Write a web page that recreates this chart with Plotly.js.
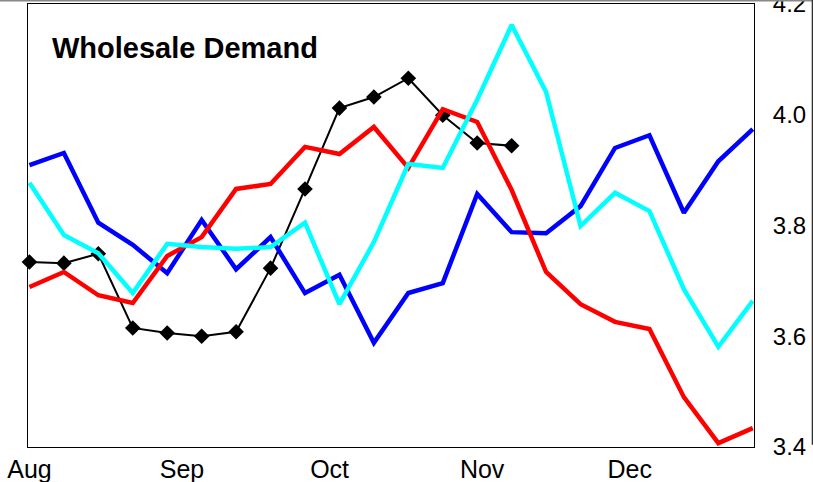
<!DOCTYPE html>
<html>
<head>
<meta charset="utf-8">
<script src="https://cdn.plot.ly/plotly-3.0.1.min.js"></script>
<style>html,body{margin:0;padding:0;background:#fff;}#chart{width:813px;height:482px;}</style>
</head>
<body>
<div id="chart"></div>
<script>
const weeks = ['2003-08-01','2003-08-08','2003-08-15','2003-08-22','2003-08-29',
  '2003-09-05','2003-09-12','2003-09-19','2003-09-26','2003-10-03','2003-10-10',
  '2003-10-17','2003-10-24','2003-10-31','2003-11-07','2003-11-14','2003-11-21',
  '2003-11-28','2003-12-05','2003-12-12','2003-12-19','2003-12-26'];
const blueVals = [3.909,3.931,3.805,3.765,3.714,3.810,3.721,3.779,3.678,3.711,3.588,
  3.678,3.696,3.857,3.788,3.786,3.835,3.940,3.963,3.823,3.916,3.974];
const cyanVals = [3.877,3.783,3.750,3.678,3.767,3.761,3.758,3.761,3.805,3.658,3.770,
  3.911,3.904,4.027,4.162,4.041,3.799,3.859,3.826,3.685,3.581,3.664];
const redVals = [3.689,3.716,3.674,3.660,3.745,3.779,3.866,3.875,3.942,3.929,3.978,
  3.904,4.010,3.987,3.864,3.716,3.658,3.626,3.613,3.490,3.407,3.434];
const blackVals = [3.734,3.732,3.749,3.615,3.606,3.600,3.608,3.723,3.866,4.012,4.032,
  4.066,3.999,3.949,3.944];
const monthTicks = ['2003-08-01','2003-09-01','2003-10-01','2003-11-01','2003-12-01'];
const monthLabels = ['Aug','Sep','Oct','Nov','Dec'];
const yTicks = [3.4,3.6,3.8,4.0,4.2];
const chartTitle = 'Wholesale Demand';

const FONT = 'Liberation Sans, Arial, Helvetica, sans-serif';

const traces = [
  {x: weeks.slice(0, blackVals.length), y: blackVals, mode: 'lines+markers', type: 'scatter',
   line: {color: '#000000', width: 2}, marker: {symbol: 'diamond', size: 12, color: '#000000'},
   cliponaxis: false, hoverinfo: 'skip'},
  {x: weeks, y: blueVals, mode: 'lines', type: 'scatter',
   line: {color: '#0000ff', width: 4.5}, hoverinfo: 'skip'},
  {x: weeks, y: redVals, mode: 'lines', type: 'scatter',
   line: {color: '#ff0000', width: 4.5}, hoverinfo: 'skip'},
  {x: weeks, y: cyanVals, mode: 'lines', type: 'scatter',
   line: {color: '#00ffff', width: 4.5}, hoverinfo: 'skip'}
];

const layout = {
  width: 813, height: 482,
  margin: {l: 28, r: 59, t: 4, b: 35, pad: 0},
  paper_bgcolor: '#ffffff', plot_bgcolor: '#ffffff',
  showlegend: false,
  font: {family: FONT, color: '#000000'},
  xaxis: {
    type: 'date',
    range: ['2003-07-31 17:00', '2003-12-26 06:00'],
    tickvals: monthTicks, ticktext: monthLabels,
    showgrid: false, zeroline: false,
    showline: true, mirror: true, linecolor: '#000000', linewidth: 1,
    ticks: '', ticklabelstandoff: 0, ticklabeloverflow: 'allow',
    tickfont: {size: 25, family: FONT, color: '#000000'}
  },
  yaxis: {
    side: 'right',
    range: [3.4, 4.2],
    tickvals: yTicks, tickformat: '.1f',
    showgrid: false, zeroline: false,
    showline: true, mirror: true, linecolor: '#000000', linewidth: 1,
    ticks: '', ticklabelstandoff: 13, ticklabeloverflow: 'allow',
    tickfont: {size: 24, family: FONT, color: '#000000'}
  },
  annotations: [{
    text: '<b>' + chartTitle + '</b>',
    xref: 'paper', yref: 'paper', x: 0.03, y: 0.9007,
    xanchor: 'left', yanchor: 'middle', showarrow: false,
    font: {size: 29, family: FONT, color: '#000000'}
  }],
  shapes: [
    {type: 'line', xref: 'paper', yref: 'paper', x0: -0.05, x1: 1.09, y0: 1.0078, y1: 1.0078,
     line: {color: '#888888', width: 2}},
    {type: 'line', xref: 'paper', yref: 'paper', x0: 1.0805, x1: 1.0805, y0: 0.005, y1: 1.01,
     line: {color: '#333333', width: 1.5}}
  ]
};

Plotly.newPlot('chart', traces, layout, {displayModeBar: false, staticPlot: true});
</script>
</body>
</html>
